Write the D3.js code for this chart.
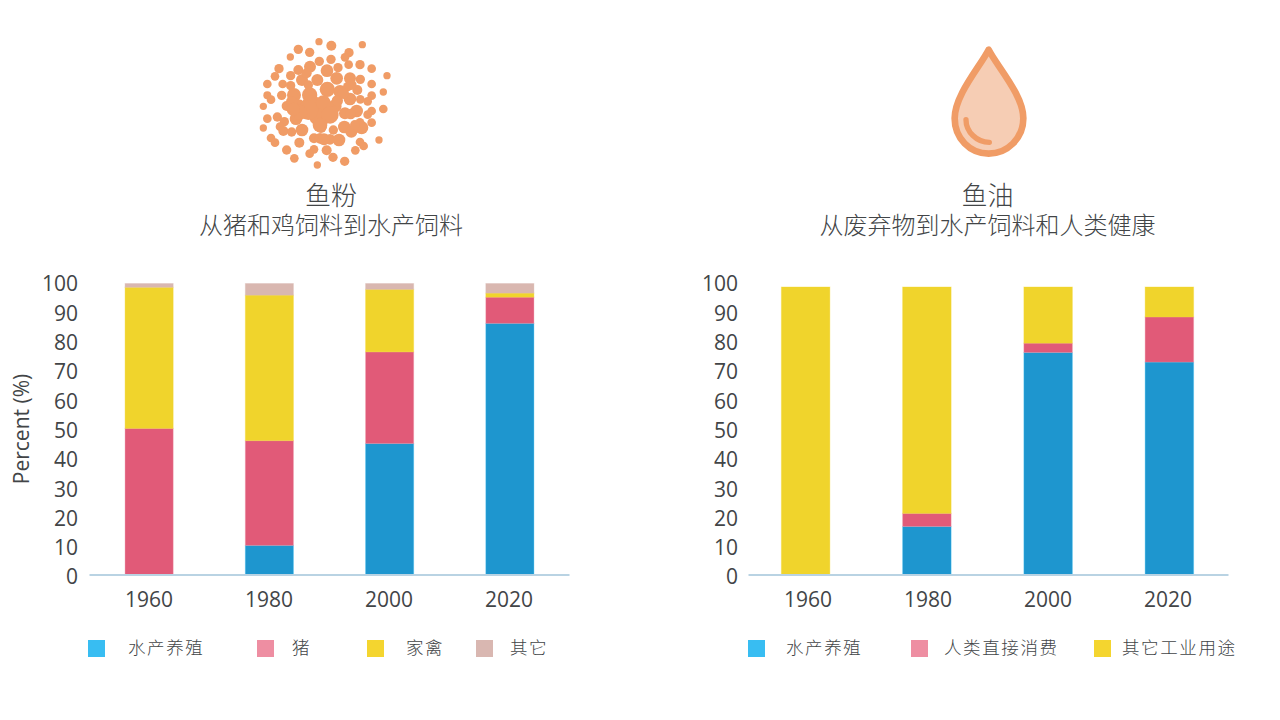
<!DOCTYPE html>
<html>
<head>
<meta charset="utf-8">
<script src="https://cdnjs.cloudflare.com/ajax/libs/d3/7.8.5/d3.min.js"></script>
<style>
  html, body { margin: 0; padding: 0; background: #fff; }
  svg { display: block; }
  text { font-family: "Open Sans", "Noto Sans CJK SC", sans-serif; fill: #424547; }
  .cjk { font-family: "Noto Sans CJK SC", sans-serif; font-weight: 300; }
</style>
</head>
<body>
<svg id="chart" width="1280" height="720"></svg>
<script>
// Data.
const years = [ '1960', '1980', '2000', '2020' ];
const y_ticks = [ 0, 10, 20, 30, 40, 50, 60, 70, 80, 90, 100 ];

const meal_aquaculture = [ 0, 10, 45, 86.3 ];
const meal_pigs = [ 50.2, 36, 31.5, 9 ];
const meal_poultry = [ 48.5, 50, 21.5, 1.4 ];
const meal_other = [ 1.3, 4, 2, 3.3 ];

const oil_aquaculture = [ 0, 16.5, 76.3, 73 ];
const oil_human = [ 0, 4.5, 3.2, 15.5 ];
const oil_industry = [ 98.8, 77.8, 19.3, 10.3 ];

const meal_labels = [ '水产养殖', '猪', '家禽', '其它' ];
const oil_labels = [ '水产养殖', '人类直接消费', '其它工业用途' ];

// Icon dots in crop units: x, y, r.
const icon_dots = [
  [237,35,9],[274,47,13],[367,44,9],[175,58,12],[209,67,12],[327,68,12],[315,82,11],[151,81,9],
  [238,94,12],[273,88,12],[360,104,12],[326,104,11],[294,113,12],[210,110,16],[261,122,17],[175,120,13],
  [117,116,12],[395,116,11],[441,137,9],[105,139,11],[152,137,12],[330,145,16],[290,145,17],[232,150,16],
  [186,150,16],[361,148,12],[82,162,11],[128,162,11],[152,167,12],[395,162,11],[262,178,21],[300,185,18],
  [352,180,13],[323,170,12],[430,186,9],[209,195,21],[162,195,19],[125,196,12],[82,196,10],[93,209,11],
  [395,197,11],[330,207,17],[361,208,11],[383,214,11],[70,229,9],[140,228,13],[175,232,22],[215,225,28],
  [240,255,32],[285,228,18],[315,250,16],[350,243,17],[395,243,11],[383,254,11],[430,237,11],[112,261,12],
  [82,266,11],[168,266,17],[133,275,12],[360,277,11],[395,278,11],[70,294,9],[120,290,11],[130,303,13],
  [155,306,12],[186,300,17],[243,292,15],[280,300,12],[313,291,17],[334,305,16],[365,293,18],[93,324,11],
  [105,338,11],[140,360,12],[178,338,13],[222,325,13],[240,325,14],[270,328,14],[297,330,17],[360,336,11],
  [371,348,11],[417,330,9],[222,358,11],[209,371,11],[260,361,13],[346,361,11],[163,385,11],[279,382,12],
  [314,394,12],[232,405,9],
  // Dense middle of the clump.
  [205,240,28],[180,248,20],[250,218,20],[270,255,24],[240,285,20],[155,215,15],[292,212,15],[160,238,18],
  [252,328,16],[332,252,14],[345,285,13],[310,190,15],[335,165,13],[205,165,12],[200,130,13]
];

const BAR_COLORS = [ '#1e96cf', '#e15a78', '#f0d42c', '#d9b7b0' ];
const SWATCH_COLORS = [ '#38bdf2', '#ee8ea2', '#f4d52f', '#d9b7b1' ];
const OIL_BAR_COLORS = [ BAR_COLORS[0], BAR_COLORS[1], BAR_COLORS[2] ];
const OIL_SWATCH_COLORS = [ SWATCH_COLORS[0], SWATCH_COLORS[1], SWATCH_COLORS[2] ];
const ICON_ORANGE = '#f09c66';

const svg = d3.select( '#chart' );
const y_scale = d3.scaleLinear().domain( [ 0, 100 ] ).range( [ 574.5, 283.5 ] );
// The tick labels run a little taller than the bars in the original.
const y_label_scale = d3.scaleLinear().domain( [ 0, 100 ] ).range( [ 575.5, 282.5 ] );


// One stacked bar panel with its axes and legend.
function render_panel( opts ){
  const series = opts.series;
  const g = svg.append( 'g' );

  // Bars and tick labels sit on slightly different bands in the original.
  const x_bars = d3.scaleBand().domain( years ).range( opts.bar_range ).paddingInner( 0.6 ).paddingOuter( 0.3 );
  const x_axis = d3.scaleBand().domain( years ).range( opts.axis_range );

  const rows = years.map( ( year, i ) => {
    const row = { year: year };
    series.forEach( ( s, k ) => { row[ k ] = s[ i ]; } );
    return row;
  });
  const stacked = d3.stack().keys( series.map( ( s, k ) => k ) )( rows );

  g.selectAll( 'g.layer' )
    .data( stacked )
    .enter()
    .append( 'g' )
      .attr( 'class', 'layer' )
      .attr( 'fill', d => opts.bar_colors[ d.key ] )
      .attr( 'stroke', d => opts.swatch_colors[ d.key ] )
      .attr( 'stroke-opacity', 0.35 )
      .attr( 'stroke-width', 1 )
      .selectAll( 'rect' )
      .data( d => d.filter( p => p[1] > p[0] ) )
      .enter()
      .append( 'rect' )
        .attr( 'x', d => x_bars( d.data.year ) )
        .attr( 'y', d => y_scale( d[1] ) )
        .attr( 'width', x_bars.bandwidth() )
        .attr( 'height', d => y_scale( d[0] ) - y_scale( d[1] ) );

  // Y axis, labels only.
  const y_axis = g.append( 'g' )
    .attr( 'transform', 'translate(' + opts.y_axis_x + ',0)' )
    .call( d3.axisLeft( y_label_scale ).tickValues( y_ticks ).tickSize( 0 ).tickPadding( 0 ) );
  y_axis.select( '.domain' ).remove();
  y_axis.selectAll( 'text' )
    .attr( 'dy', '0.4em' )
    .style( 'font-size', '21px' )
    .style( 'font-family', '"Open Sans", sans-serif' )
    .style( 'fill', '#424547' );

  // X axis.
  const x_axis_g = g.append( 'g' )
    .attr( 'transform', 'translate(0,574.5)' )
    .call( d3.axisBottom( x_axis ).tickSize( 0 ).tickPadding( 18 ) );
  x_axis_g.select( '.domain' )
    .attr( 'stroke', '#b9d3e3' )
    .attr( 'stroke-width', 2 );
  x_axis_g.selectAll( 'text' )
    .style( 'font-size', '21px' )
    .style( 'font-family', '"Open Sans", sans-serif' )
    .style( 'fill', '#424547' );

  // Title block.
  g.append( 'text' )
    .attr( 'class', 'cjk' )
    .attr( 'x', opts.title_x )
    .attr( 'y', 205 )
    .attr( 'text-anchor', 'middle' )
    .style( 'font-size', '26px' )
    .text( opts.title );
  g.append( 'text' )
    .attr( 'class', 'cjk' )
    .attr( 'x', opts.title_x )
    .attr( 'y', 234 )
    .attr( 'text-anchor', 'middle' )
    .style( 'font-size', '24px' )
    .text( opts.subtitle );

  // Legend.
  opts.labels.forEach( ( label, i ) => {
    g.append( 'rect' )
      .attr( 'x', opts.swatch_x[ i ] )
      .attr( 'y', 640 )
      .attr( 'width', 17 )
      .attr( 'height', 17 )
      .attr( 'fill', opts.swatch_colors[ i ] );
    g.append( 'text' )
      .attr( 'class', 'cjk' )
      .attr( 'x', opts.text_x[ i ] )
      .attr( 'y', 654 )
      .style( 'font-size', '17.5px' )
      .style( 'letter-spacing', '1.6px' )
      .text( label );
  });
}

render_panel({
  series: [ meal_aquaculture, meal_pigs, meal_poultry, meal_other ],
  labels: meal_labels,
  bar_colors: BAR_COLORS,
  swatch_colors: SWATCH_COLORS,
  bar_range: [ 89, 570 ],
  axis_range: [ 89, 569 ],
  y_axis_x: 78,
  title_x: 331,
  title: '鱼粉',
  subtitle: '从猪和鸡饲料到水产饲料',
  swatch_x: [ 88, 257, 367, 476 ],
  text_x: [ 128, 292, 406, 510 ]
});

render_panel({
  series: [ oil_aquaculture, oil_human, oil_industry ],
  labels: oil_labels,
  bar_colors: OIL_BAR_COLORS,
  swatch_colors: OIL_SWATCH_COLORS,
  bar_range: [ 745, 1230 ],
  axis_range: [ 748, 1228 ],
  y_axis_x: 738,
  title_x: 987.5,
  title: '鱼油',
  subtitle: '从废弃物到水产饲料和人类健康',
  swatch_x: [ 748, 911, 1094 ],
  text_x: [ 786, 944, 1122 ]
});

// Y axis title, left panel only.
svg.append( 'text' )
  .attr( 'transform', 'translate(29,429) rotate(-90)' )
  .attr( 'text-anchor', 'middle' )
  .style( 'font-size', '21px' )
  .text( 'Percent (%)' );

// Fish meal icon.
svg.append( 'g' )
  .attr( 'transform', 'translate(240,30) scale(0.3333)' )
  .attr( 'fill', ICON_ORANGE )
  .selectAll( 'circle' )
  .data( icon_dots )
  .enter()
  .append( 'circle' )
    .attr( 'cx', d => d[0] )
    .attr( 'cy', d => d[1] )
    .attr( 'r', d => d[2] + 2 );

// Fish oil drop icon.
const drop = svg.append( 'g' )
  .attr( 'transform', 'translate(930,35) scale(0.3333)' )
  .attr( 'stroke', ICON_ORANGE )
  .attr( 'stroke-width', 20 )
  .attr( 'stroke-linecap', 'round' )
  .attr( 'stroke-linejoin', 'round' );
drop.append( 'path' )
  .attr( 'fill', '#f6cdb4' )
  .attr( 'd', 'M176,44 C150,95 74,180 74,250 C74,310 120,356 176,356 C232,356 280,310 280,250 C280,180 202,95 176,44 Z' );
drop.append( 'path' )
  .attr( 'fill', 'none' )
  .attr( 'stroke-width', 16 )
  .attr( 'd', 'M108,254 C108,290 140,322 178,322' );
</script>
</body>
</html>
